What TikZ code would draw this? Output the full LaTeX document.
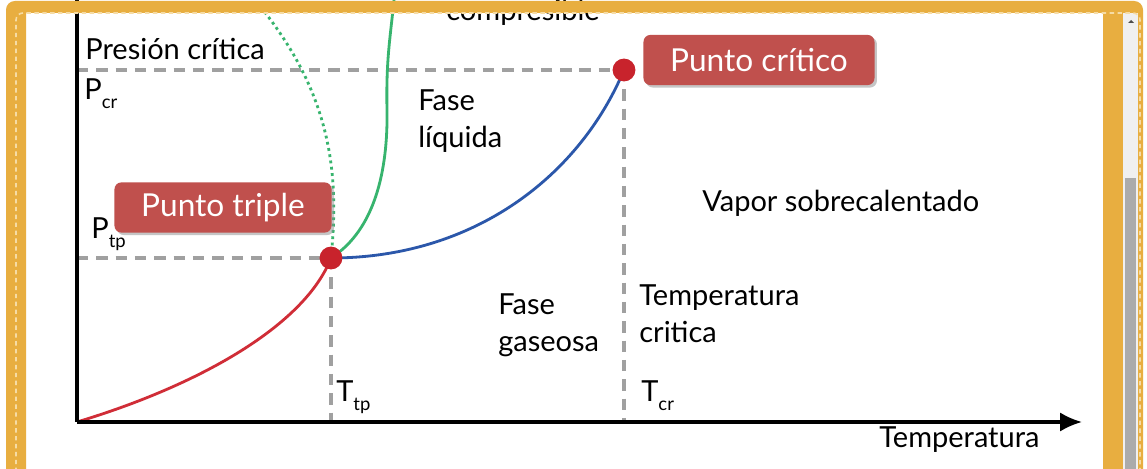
\documentclass[tikz,border=0pt]{standalone}
\usepackage{fontspec}
\setmainfont{Lato}
\usetikzlibrary{arrows.meta,shadows}

\definecolor{marco}{RGB}{232,174,64}
\definecolor{marcoclaro}{RGB}{246,220,165}
\definecolor{rojocaja}{RGB}{192,80,77}
\definecolor{rojopunto}{RGB}{200,35,44}
\definecolor{rojocurva}{RGB}{208,45,55}
\definecolor{verde}{RGB}{55,180,110}
\definecolor{azul}{RGB}{43,87,170}
\definecolor{gris}{RGB}{160,160,160}

\tikzset{
  etiqueta/.style={font=\fontsize{16.5}{21}\selectfont, inner sep=0pt},
  punto/.style={circle, fill=rojopunto, minimum size=13pt, inner sep=0pt},
  caja/.style={fill=rojocaja, text=white, rounded corners=4pt, minimum height=28.6pt,
    font=\fontsize{18}{18}\selectfont,
    drop shadow={shadow xshift=1.4pt, shadow yshift=-1.4pt, fill=black!45, opacity=0.5}},
  guia/.style={draw=gris, line width=2pt, dash pattern=on 6.5pt off 4.5pt},
  curva/.style={line width=1.6pt},
  eje/.style={line width=1.8pt}
}
\newcommand{\subi}[1]{\raisebox{-5pt}{\fontsize{10.5}{10.5}\selectfont #1}}

\begin{document}
\begin{tikzpicture}[x=0.02cm,y=-0.02cm]
\useasboundingbox (0,0) rectangle (1147,469);
\clip (0,0) rectangle (1147,469);
\fill[white] (0,0) rectangle (1147,469);

\coordinate (O) at (77,422);
\coordinate (tp) at (331,258);
\coordinate (cp) at (624,70);
\coordinate (ytop) at (77,0);
\coordinate (xend) at (1082,422);
\coordinate (pcr) at (77,70);
\coordinate (ptp) at (77,258);
\coordinate (ttp) at (331,422);
\coordinate (tcr) at (624,422);
\coordinate (vtop) at (394,0);
\coordinate (stop) at (255,0);

\node[etiqueta, anchor=base west] (comp) at (446,21) {compresible};

\draw[guia] (pcr) -- (cp);
\draw[guia] (ptp) -- (tp);
\draw[guia] (tp) -- (ttp);
\draw[guia] (cp) -- (tcr);

\draw[curva, rojocurva] (O) .. controls (200,385) and (305,325) .. (tp);
\draw[curva, azul] (tp) .. controls (475,258) and (580,175) .. (cp);
\draw[curva, verde] (tp) .. controls (375,230) and (388,170) .. (387,110)
  .. controls (386,60) and (390,40) .. (vtop);
\draw[curva, verde, dash pattern=on 1.6pt off 2pt] (tp) .. controls (340,170) and (330,90) .. (stop);

\draw[eje] (ytop) -- (O);
\draw[eje, -{Latex[length=12.5pt,width=11pt]}] (O) -- (xend);

\node[punto] (ptriple) at (tp) {};
\node[punto] (pcritico) at (cp) {};

\node[caja, minimum width=123.6pt] (ctriple) at (223,207.5) {Punto triple};
\node[caja, minimum width=131.5pt] (ccritico) at (759,60) {Punto crítico};

\node[etiqueta, anchor=base west] (presion) at (85,60) {Presión crítica};
\node[etiqueta, anchor=base west] (lpcr) at (84,100) {P\subi{cr}};
\node[etiqueta, anchor=base west] (lptp) at (91,239) {P\subi{tp}};
\node[etiqueta, anchor=base west] (lttp) at (336,402) {T\subi{tp}};
\node[etiqueta, anchor=base west] (ltcr) at (641,402) {T\subi{cr}};
\node[etiqueta, anchor=west, align=left] (liquida) at (418,121) {Fase\\líquida};
\node[etiqueta, anchor=west, align=left] (gaseosa) at (498,325) {Fase\\gaseosa};
\node[etiqueta, anchor=west, align=left] (tempcr) at (639,314) {Temperatura\\critica};
\node[etiqueta, anchor=base west] (vapor) at (702,212) {Vapor sobrecalentado};
\node[etiqueta, anchor=base west] (temp) at (879,448) {Temperatura};

\fill[marco, even odd rule] [rounded corners=5pt] (6,480) -- (6,1) -- (1143,1) -- (1143,480) -- cycle
  [sharp corners] (26,13) rectangle (1103,480);
\fill[black!6] (1123,13) rectangle (1138,480);
\fill[black!33] (1125,178) rectangle (1136,480);
\fill[black!70] (1128,23) -- (1134,23) -- (1131,20) -- cycle;
\draw[marcoclaro, line width=0.9pt, dash pattern=on 2.5pt off 2pt, rounded corners=4pt]
  (16,480) -- (16,13) -- (1140,13) -- (1140,480);
\end{tikzpicture}
\end{document}
